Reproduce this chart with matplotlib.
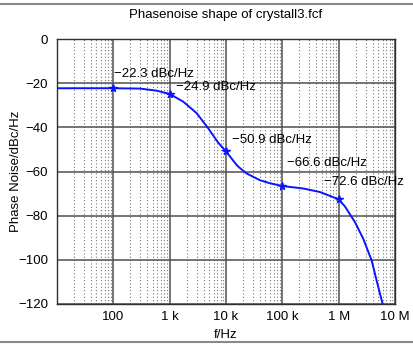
import matplotlib
matplotlib.use("Agg")
import matplotlib.pyplot as plt
from matplotlib.lines import Line2D
from matplotlib.ticker import FixedLocator, NullFormatter, LogLocator

plt.rcParams['font.family'] = ['Liberation Sans', 'DejaVu Sans']

# curve
freq = [10, 100, 298, 589, 1000, 1746, 3020, 4853, 7295, 10000, 15500, 17220, 23280,
        40090, 60000, 100000, 148000, 235500, 465600, 1.0e6, 1.29e6, 1.945e6, 2.735e6,
        3.855e6, 4.72e6, 6.04e6]
noise = [-22.3, -22.3, -22.45, -23.4, -24.9, -28.4, -33.6, -40.5, -47.0, -50.9, -57.1,
         -58.2, -60.9, -63.95, -65.3, -66.6, -67.1, -67.7, -69.3, -72.6, -75.8, -82.9,
         -90.5, -100.3, -109.4, -120.0]

# marked points
mark_freq = [100, 1000, 10000, 100000, 1000000]
mark_val = [-22.3, -24.9, -50.9, -66.6, -72.6]
mark_text = ['\u221222.3 dBc/Hz', '\u221224.9 dBc/Hz', '\u221250.9 dBc/Hz',
             '\u221266.6 dBc/Hz', '\u221272.6 dBc/Hz']

xtick_vals = [100, 1000, 10000, 100000, 1000000, 10000000]
xtick_labels = ['100', '1 k', '10 k', '100 k', '1 M', '10 M']
ytick_vals = [0, -20, -40, -60, -80, -100, -120]

FS = 9.5
W, H = 414, 346
fig = plt.figure(figsize=(W / 100, H / 100), dpi=100)
ax = fig.add_axes([57 / W, 1 - 304 / H, 338 / W, 265 / H])

ax.set_xscale('log')
ax.set_xlim(10, 1e7)
ax.set_ylim(-120, 0)

# grids
ax.xaxis.set_minor_locator(LogLocator(base=10, subs=[2, 3, 4, 5, 6, 7, 8, 9], numticks=20))
ax.xaxis.set_minor_formatter(NullFormatter())
ax.grid(True, which='minor', axis='x', color='#777777', linestyle=(0, (1, 2)), linewidth=0.8)
ax.grid(True, which='major', axis='both', color='#505050', linestyle='-', linewidth=1.1)
ax.set_axisbelow(True)

ax.plot(freq, noise, color='#0a14ff', linewidth=1.4, zorder=3)
ax.plot(mark_freq, mark_val, linestyle='none', marker='*', markersize=5.5,
        color='#0a14ff', zorder=4)

offsets = [(1, 14), (6, 7), (6, 11), (5, 23), (-15, 17)]
for f, v, t, (dx, dy) in zip(mark_freq, mark_val, mark_text, offsets):
    ax.annotate(t, xy=(f, v), xytext=(dx, dy), textcoords='offset pixels',
                ha='left', va='center', fontsize=FS, color='black', zorder=5)

ax.xaxis.set_major_locator(FixedLocator(xtick_vals))
ax.set_xticklabels(xtick_labels)
ax.set_yticks(ytick_vals)
ax.set_yticklabels([('\u2212%d' % -v) if v < 0 else '0' for v in ytick_vals])
ax.tick_params(axis='both', which='both', length=0, labelsize=FS)
ax.tick_params(axis='x', pad=5)
ax.tick_params(axis='y', pad=6.5)

for s in ax.spines.values():
    s.set_color('#303030')
    s.set_linewidth(1.0)

ax.set_xlabel('f/Hz', fontsize=FS)
ax.xaxis.set_label_coords(0.5, -(335 - 304) / 265, transform=ax.transAxes)
ax.set_ylabel('Phase Noise/dBc/Hz', fontsize=FS)
ax.yaxis.set_label_coords(-(57 - 16) / 338, 0.5, transform=ax.transAxes)
ax.xaxis.label.set_va('center')
ax.yaxis.label.set_va('center')

fig.text(226 / W, 1 - 15 / H, 'Phasenoise shape of crystall3.fcf', ha='center', va='center',
         fontsize=FS)

# figure frame lines at top and bottom
fig.add_artist(Line2D([0, 1], [1 - 4 / H, 1 - 4 / H], transform=fig.transFigure,
                      color='#888888', linewidth=1.5))
fig.add_artist(Line2D([0, 1], [1 - 342 / H, 1 - 342 / H], transform=fig.transFigure,
                      color='#888888', linewidth=1.5))

fig.savefig('out.png', dpi=100)
